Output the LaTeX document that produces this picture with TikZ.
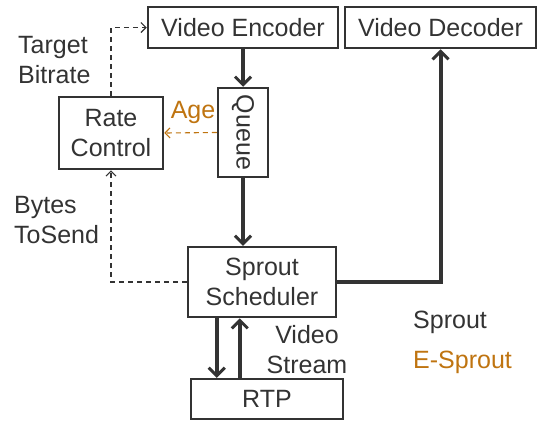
\documentclass[tikz,border=0pt]{standalone}
\usepackage{fontspec}
\setmainfont{Liberation Sans}
\usepackage{xcolor}
\usetikzlibrary{arrows.meta,positioning}
\definecolor{lineColor}{HTML}{333333}
\definecolor{ageColor}{HTML}{BF7410}

\begin{document}
\begin{tikzpicture}[
x=1pt,y=-1pt,
font=\fontsize{25}{30}\selectfont,
every node/.style={text=lineColor},
block/.style={draw=lineColor,line width=2.5pt,inner sep=0pt,align=center},
label/.style={inner sep=0pt,align=left},
flow/.style={draw=lineColor,line width=4pt,-{Straight Barb[length=8pt,width=16pt,line width=3pt]}},
ctrl/.style={draw=lineColor,line width=1.1pt,dash pattern=on 5pt off 4pt,-{Straight Barb[length=5pt,width=10pt,line width=1.1pt]}},
]
\useasboundingbox (0,0) rectangle (537,421);
% boxes
\node[block,minimum width=190pt,minimum height=41pt] (enc) at (243,27.5) {Video Encoder};
\node[block,minimum width=191pt,minimum height=41pt] (dec) at (440.5,27.5) {Video Decoder};
\node[block,minimum width=50pt,minimum height=89pt] (queue) at (243,132.5) {\rotatebox{-90}{Queue}};
\node[block,minimum width=104pt,minimum height=72pt] (rate) at (111,133) {Rate\\Control};
\node[block,minimum width=148pt,minimum height=70pt] (sched) at (262,282) {Sprout\\Scheduler};
\node[block,minimum width=152pt,minimum height=40pt] (rtp) at (267,399) {RTP};
% labels
\node[label,anchor=west] (target) at (18,60) {Target\\Bitrate};
\node[label,anchor=west] (bytes) at (14,220) {Bytes\\ToSend};
\node[label,text=ageColor] (age) at (193,112) {Age};
\node[label,align=center] (stream) at (307,350) {Video\\Stream};
\node[label,anchor=west] (sprout) at (413,322) {Sprout};
\node[label,anchor=west,text=ageColor] (esprout) at (413,362) {E-Sprout};
% connectors
\draw[flow] (enc.south) -- (queue.north);
\draw[flow] (queue.south) -- (queue.south |- sched.north);
\draw[flow] ([xshift=30pt]sched.south west) -- ([xshift=30pt]sched.south west |- rtp.north);
\draw[flow] ([xshift=53pt]sched.south west |- rtp.north) -- ([xshift=53pt]sched.south west);
\draw[flow] (sched.east) -| (dec.south);
\draw[ctrl] (rate.north) |- (enc.west);
\draw[ctrl] (sched.west) -| (rate.south);
\draw[ctrl,draw=ageColor] (queue.west) -- (rate.east);
\end{tikzpicture}
\end{document}
